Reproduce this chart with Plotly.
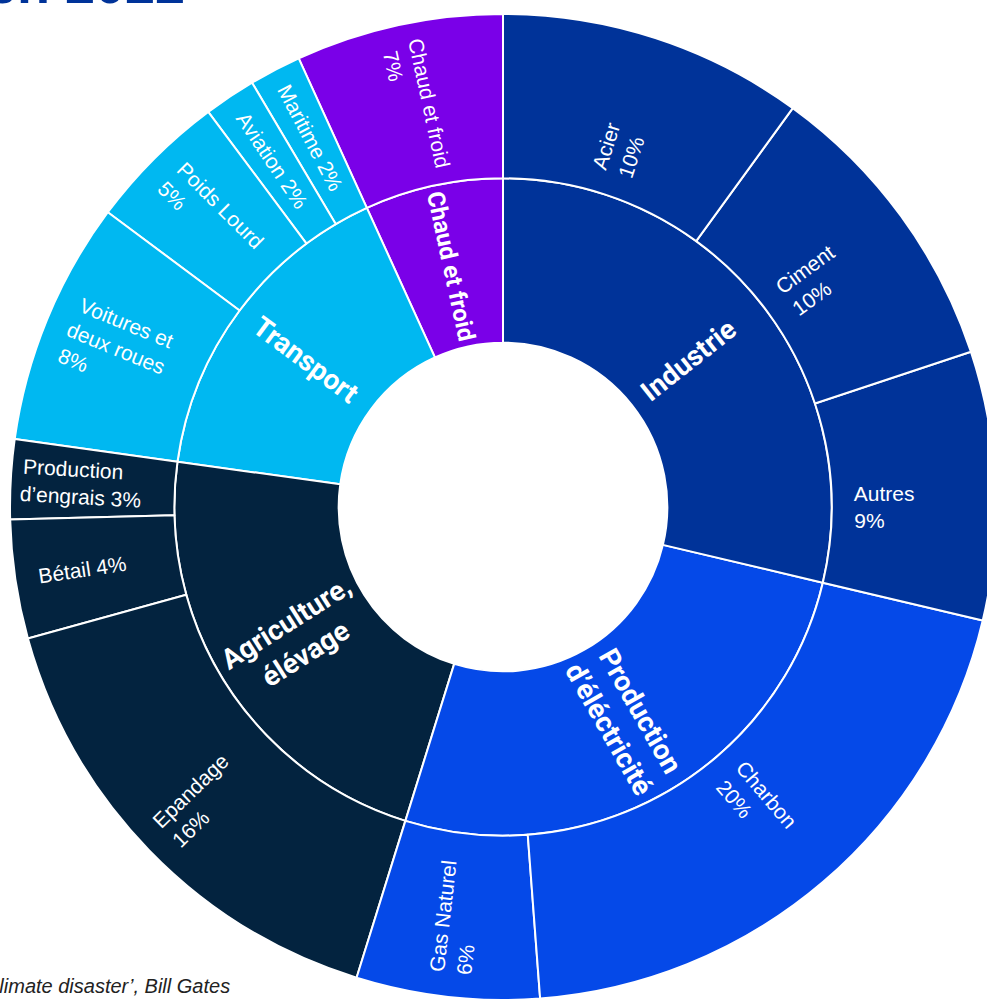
import plotly.graph_objects as go

# ---- data -------------------------------------------------------------
sectors = ["Industrie", "Production d'électricité", "Agriculture, élévage",
           "Transport", "Chaud et froid"]
sector_text = ["Industrie", "Production<br>d’éléctricité", "Agriculture,<br>élévage",
               "Transport", "Chaud et froid"]
sector_colors = ["#003399", "#0549E8", "#03233F", "#00B8F1", "#7A00E8"]

leaf_names = ["Acier", "Ciment", "Autres", "Charbon", "Gas Naturel", "Epandage",
              "Bétail", "Production<br>d’engrais", "Voitures et<br>deux roues",
              "Poids Lourd", "Aviation", "Maritime", "Chaud et froid"]
leaf_parent = ["Industrie", "Industrie", "Industrie",
               "Production d'électricité", "Production d'électricité",
               "Agriculture, élévage", "Agriculture, élévage", "Agriculture, élévage",
               "Transport", "Transport", "Transport", "Transport",
               "Chaud et froid"]
leaf_values = [10.0, 9.9, 8.8, 20.1, 6.0, 15.9, 3.9, 2.6, 8.0, 4.6, 1.7, 1.7, 6.8]
leaf_pct = ["10%", "10%", "9%", "20%", "6%", "16%", "4%", "3%", "8%", "5%", "2%", "2%", "7%"]
leaf_sep = ["<br>", "<br>", "<br>", "<br>", "<br>", "<br>", " ", " ", "<br>",
            "<br>", " ", " ", "<br>"]

title_text = "en 2022"
source_text = "Source : ‘How to avoid a climate disaster’, Bill Gates"

# ---- text styling helpers ---------------------------------------------
NB = "\u00a0"
inner_font = "Roboto, sans-serif"
outer_font = "Liberation Sans, Arial, sans-serif"
OUTER_SIZE = 21
LINE_BOX = 120  # px: every outer label line is padded to this width -> start-aligned look

_W = {" ": 278, "%": 889, "’": 222, "'": 191, "A": 667, "B": 667, "C": 722, "E": 667,
      "G": 778, "L": 556, "N": 722, "P": 667, "V": 667, "a": 556, "b": 556, "c": 500,
      "d": 556, "e": 556, "é": 556, "f": 278, "g": 556, "h": 556, "i": 222, "l": 222,
      "m": 833, "n": 556, "o": 556, "p": 556, "r": 333, "s": 500, "t": 278, "u": 556,
      "v": 500, "x": 500}


def text_width(s, size):
    return sum(_W.get(ch, 556) for ch in s) * size / 1000.0


def start_aligned(label, size):
    out = []
    for line in label.split("<br>"):
        w = text_width(line, size)
        n = int(round((LINE_BOX - w) / (0.278 * size))) if w < LINE_BOX else 0
        out.append(line + NB * n)
    return "<br>".join(out)


# ---- build hierarchy --------------------------------------------------
ids, labels, parents, values, texts, colors, fsize, ffam = [], [], [], [], [], [], [], []
ids.append("root"); labels.append(""); parents.append(""); values.append(sum(leaf_values))
texts.append(""); colors.append("white"); fsize.append(10); ffam.append(outer_font)

# plotly sunburst runs counter-clockwise -> feed reversed to get clockwise order
for s, st, c in list(zip(sectors, sector_text, sector_colors))[::-1]:
    ids.append(s); labels.append(s); parents.append("root")
    values.append(sum(v for v, p in zip(leaf_values, leaf_parent) if p == s))
    lab = "<b>" + st + "</b>"
    if s == "Industrie":
        # blank padding lines keep the label radial instead of horizontal at 3 o'clock
        lab = NB + "<br>" + NB + "<br>" + lab + "<br>" + NB + "<br>" + NB
    texts.append(lab); colors.append(c)
    fsize.append(24 if s == "Chaud et froid" else 28); ffam.append(inner_font)
    kids = [i for i, p in enumerate(leaf_parent) if p == s][::-1]
    for i in kids:
        ids.append(s + "/" + leaf_names[i]); labels.append(leaf_names[i]); parents.append(s)
        values.append(leaf_values[i])
        texts.append(start_aligned(leaf_names[i] + leaf_sep[i] + leaf_pct[i], OUTER_SIZE))
        colors.append(c); fsize.append(OUTER_SIZE); ffam.append(outer_font)

fig = go.Figure(go.Sunburst(
    ids=ids, labels=labels, parents=parents, values=values,
    branchvalues="total", sort=False, rotation=90,
    text=texts, textinfo="text",
    insidetextorientation="radial",
    marker=dict(colors=colors, line=dict(color="white", width=2)),
    leaf=dict(opacity=1),
    textfont=dict(color="white", size=fsize, family=ffam),
    hoverinfo="skip",
))

fig.add_annotation(text="<b>" + title_text + "</b>", xref="paper", yref="paper",
                   x=(187 - 10) / 986, y=1, xanchor="right", yanchor="bottom", yshift=-2,
                   showarrow=False, font=dict(size=54, color="#003399",
                                              family="Liberation Sans, Arial, sans-serif"))
fig.add_annotation(text="<i>" + source_text + "</i>", xref="paper", yref="paper",
                   x=(232 - 10) / 986, y=0, xanchor="right", yanchor="bottom", yshift=1,
                   showarrow=False, font=dict(size=20, color="#222222",
                                              family="Liberation Sans, Arial, sans-serif"))

fig.update_layout(width=996, height=1000, margin=dict(l=10, r=0, t=14, b=0),
                  paper_bgcolor="white", plot_bgcolor="white", showlegend=False)

fig.write_html("out.html", config={"displayModeBar": False},
               post_script="document.body.style.margin='0';document.body.style.overflow='hidden';")
